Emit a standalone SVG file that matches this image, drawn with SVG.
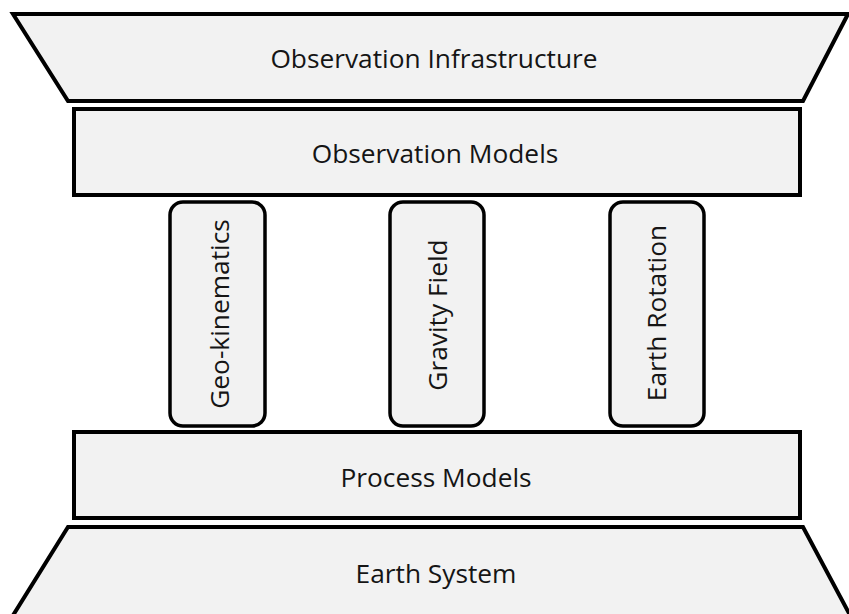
<svg xmlns="http://www.w3.org/2000/svg" width="849" height="614" viewBox="0 0 849 614">
  <style>
    .shape { fill: #f2f2f2; stroke: #000; stroke-width: 4; stroke-linejoin: miter; }
    .pillar { fill: #f2f2f2; stroke: #000; stroke-width: 3.5; }
    .label { font-family: "Open Sans", "Noto Sans", sans-serif; font-size: 26.3px; fill: #151515; text-anchor: middle; font-variant-ligatures: none; }
  </style>
  <rect width="849" height="614" fill="#fff"/>

  <g id="observation-infrastructure">
    <path class="shape" d="M13,14 L848,14 L803,101 L68,101 Z"/>
    <text class="label" x="434" y="68">Observation Infrastructure</text>
  </g>

  <g id="observation-models">
    <rect class="shape" x="74" y="109" width="726" height="86"/>
    <text class="label" x="435" y="163">Observation Models</text>
  </g>

  <g id="geo-kinematics">
    <rect class="pillar" x="170" y="202" width="95" height="224" rx="13"/>
    <text class="label" transform="translate(229,314) rotate(-90)">Geo-kinematics</text>
  </g>

  <g id="gravity-field">
    <rect class="pillar" x="390" y="202" width="94" height="224" rx="13"/>
    <text class="label" transform="translate(447,315) rotate(-90)">Gravity Field</text>
  </g>

  <g id="earth-rotation">
    <rect class="pillar" x="610" y="202" width="94" height="224" rx="13"/>
    <text class="label" transform="translate(666,313) rotate(-90)">Earth Rotation</text>
  </g>

  <g id="process-models">
    <rect class="shape" x="74" y="432" width="726" height="86"/>
    <text class="label" x="436" y="487">Process Models</text>
  </g>

  <g id="earth-system">
    <path class="shape" d="M68,527 L803,527 L851,617 L12,617 Z"/>
    <text class="label" x="436" y="583">Earth System</text>
  </g>

  <g id="connectors"/>
</svg>
